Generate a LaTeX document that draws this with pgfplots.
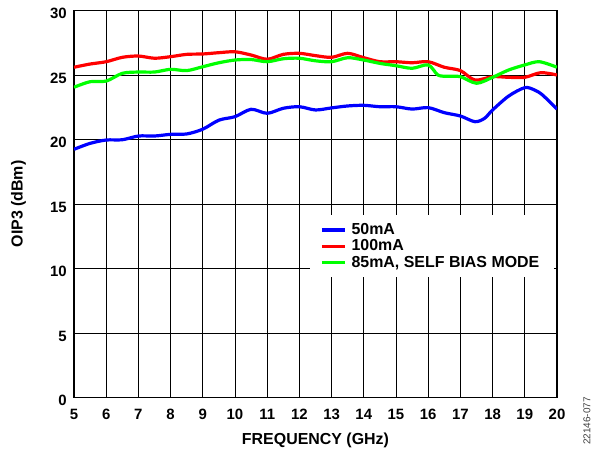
\documentclass[border=0pt]{standalone}
\usepackage{fontspec}
\setmainfont{Liberation Sans}
\usepackage{pgfplots}
\pgfplotsset{compat=1.18}
\definecolor{cblue}{RGB}{0,0,255}
\definecolor{cred}{RGB}{255,0,0}
\definecolor{cgreen}{RGB}{0,255,0}
\begin{document}
\begin{tikzpicture}
\useasboundingbox (-74bp,-53.5bp) rectangle (521bp,397.5bp);
\begin{axis}[
  scale only axis,
  width=483bp, height=387bp,
  xmin=5, xmax=20, ymin=0, ymax=30,
  xtick={5,6,...,20}, ytick={0,5,...,30},
  grid=major,
  major grid style={black, line width=0.9bp},
  axis line style={black, line width=1.6bp},
  major tick length=0pt,
  /pgf/number format/assume math mode=true,
  tick label style={font=\fontsize{15}{15}\selectfont\bfseries},
  xticklabel style={anchor=base, yshift=-21.5bp, inner sep=0pt},
  yticklabel style={anchor=east, xshift=-7bp, yshift=-3bp, inner sep=0pt},
  xlabel={FREQUENCY (GHz)},
  ylabel={OIP3 (dBm)},
  label style={font=\fontsize{16}{16}\selectfont\bfseries},
  xlabel style={at={(axis description cs:0.5,-0.1202)}, anchor=base},
  ylabel style={at={(axis description cs:-0.1062,0.5)}, anchor=base},
  legend style={at={(axis description cs:0.489,0.4716)}, anchor=north west,
    draw=none, fill=white, inner xsep=10bp, inner ysep=8bp,
    font=\fontsize{16}{16}\selectfont\bfseries,
    nodes={inner xsep=5bp, inner ysep=0.5bp}, row sep=2.5bp},
  legend cell align=left,
  legend image code/.code={\draw[#1, line width=3.2bp] (0bp,0bp) -- (23bp,0bp);},
  every axis plot/.append style={line width=3.2bp, smooth, tension=0.5},
]
\addplot[cblue] coordinates {
(5.0,19.24) (5.5,19.7) (6.0,19.96) (6.5,19.98) (7.0,20.27) (7.5,20.27)
(8.0,20.4) (8.5,20.43) (9.0,20.8) (9.5,21.5) (10.0,21.77) (10.5,22.34)
(11.0,22.03) (11.5,22.42) (12.0,22.54) (12.5,22.29) (13.0,22.45) (13.5,22.6)
(14.0,22.65) (14.5,22.54) (15.0,22.54) (15.5,22.36) (16.0,22.47) (16.5,22.08)
(17.0,21.82) (17.45,21.38) (17.75,21.64) (18.0,22.29) (18.5,23.37) (19.0,24.02)
(19.3,23.84) (19.55,23.45) (20.0,22.36)
};
\addlegendentry{50mA}
\addplot[cred] coordinates {
(5.0,25.6) (5.5,25.85) (6.0,26.03) (6.5,26.37) (7.0,26.47) (7.5,26.3)
(8.0,26.42) (8.5,26.6) (9.0,26.63) (9.5,26.73) (10.0,26.8) (10.5,26.55)
(11.0,26.22) (11.5,26.6) (12.0,26.68) (12.5,26.5) (13.0,26.37) (13.5,26.68)
(14.0,26.34) (14.5,26.03) (15.0,26.03) (15.5,25.95) (16.0,26.03) (16.5,25.6)
(17.0,25.34) (17.45,24.61) (18.0,24.87) (18.5,24.82) (19.0,24.82) (19.5,25.18)
(20.0,25.0)
};
\addlegendentry{100mA}
\addplot[cgreen] coordinates {
(5.0,24.05) (5.5,24.48) (6.0,24.53) (6.5,25.13) (7.0,25.23) (7.5,25.23)
(8.0,25.44) (8.5,25.34) (9.0,25.64) (9.5,25.95) (10.0,26.16) (10.5,26.2)
(11.0,26.03) (11.5,26.26) (12.0,26.3) (12.5,26.1) (13.0,26.03) (13.5,26.34)
(14.0,26.16) (14.5,25.9) (15.0,25.72) (15.5,25.52) (16.0,25.78) (16.3,25.0)
(16.6,24.9) (17.0,24.87) (17.5,24.36) (18.0,24.82) (18.5,25.39) (19.0,25.78)
(19.45,26.03) (20.0,25.6)
};
\addlegendentry{85mA, SELF BIAS MODE}
\end{axis}
\node[rotate=90, font=\fontsize{10}{10}\selectfont, text=black!75, inner sep=0pt] at (513bp,-23.5bp) {22146-077};
\end{tikzpicture}
\end{document}
